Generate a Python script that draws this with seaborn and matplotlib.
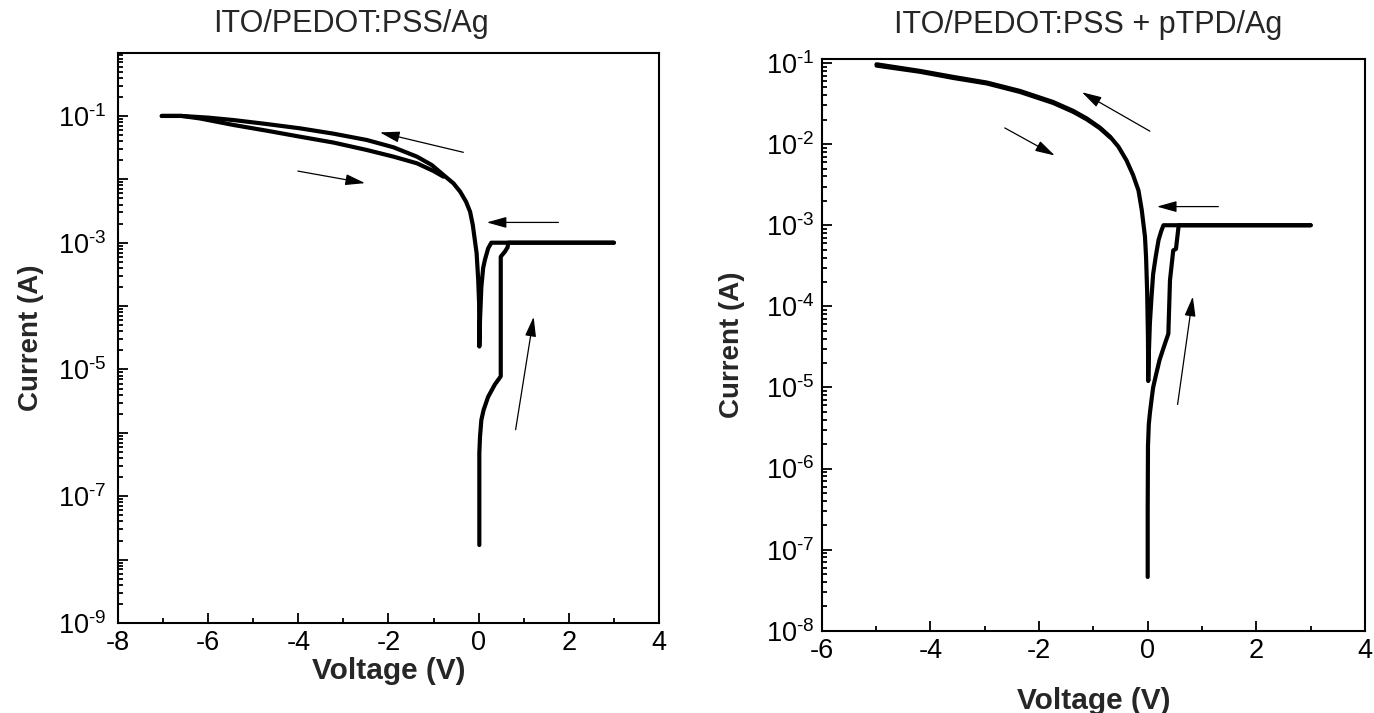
import numpy as np
import pandas as pd
import seaborn as sns
import matplotlib.pyplot as plt
from matplotlib.ticker import LogLocator, FixedLocator, MultipleLocator, NullFormatter

# left device: ITO/PEDOT:PSS/Ag  (voltage in V, |current| in A)
left_up_v = [0.015, 0.015, 0.015, 0.03, 0.06, 0.11, 0.21, 0.36, 0.49, 0.49, 0.52, 0.58, 0.64, 0.66, 3.0]
left_up_i = [1.7e-8, 1.4e-7, 4.8e-7, 8.7e-7, 1.6e-6, 2.3e-6, 3.7e-6, 5.8e-6, 7.8e-6, 6.0e-4, 6.4e-4, 7.2e-4, 8.4e-4, 1e-3, 1e-3]
left_back_v = [3.0, 0.28, 0.21, 0.14, 0.1, 0.06, 0.03, 0.015, 0.01, -0.01, -0.045, -0.08, -0.13, -0.19, -0.28,
               -0.41, -0.56, -0.78, -1.04, -1.37, -1.89, -2.48, -3.22, -3.96, -4.70, -5.44, -6.0, -6.59, -7.03]
left_back_i = [1e-3, 1e-3, 8.1e-4, 5.4e-4, 4.0e-4, 2.0e-4, 6.0e-5, 2.3e-5, 1.1e-4, 2.6e-4, 6.8e-4, 1.04e-3, 1.9e-3, 3.08e-3, 4.44e-3,
               6.38e-3, 8.65e-3, 1.17e-2, 1.68e-2, 2.28e-2, 3.2e-2, 4.17e-2, 5.25e-2, 6.37e-2, 7.45e-2, 8.61e-2, 9.4e-2, 0.1, 0.1]
left_ret_v = [-7.03, -6.59, -6.18, -5.44, -4.70, -3.96, -3.22, -2.48, -1.89, -1.37, -1.0, -0.78]
left_ret_i = [0.1, 0.1, 9.12e-2, 7.2e-2, 5.85e-2, 4.7e-2, 3.8e-2, 2.9e-2, 2.28e-2, 1.79e-2, 1.35e-2, 1.1e-2]

# right device: ITO/PEDOT:PSS + pTPD/Ag
right_up_v = [0.0, 0.0, 0.005, 0.02, 0.04, 0.07, 0.1, 0.16, 0.22, 0.3, 0.38, 0.41, 0.47, 0.52, 0.56, 0.57, 3.0]
right_up_i = [4.6e-8, 3.2e-7, 1.9e-6, 3.5e-6, 4.8e-6, 7.0e-6, 1.0e-5, 1.5e-5, 2.2e-5, 3.2e-5, 4.6e-5, 2.1e-4, 4.9e-4, 5.1e-4, 8.7e-4, 1e-3, 1e-3]
right_back_v = [3.0, 0.29, 0.25, 0.2, 0.15, 0.1, 0.07, 0.04, 0.02, 0.01, 0.005, -0.01, -0.03, -0.05, -0.11, -0.17,
                -0.27, -0.39, -0.54, -0.69, -0.88, -1.12, -1.37, -1.74, -2.35, -2.96, -3.58, -4.19, -4.99]
right_back_i = [1e-3, 1e-3, 8.5e-4, 6.6e-4, 4.2e-4, 2.5e-4, 1.3e-4, 6.2e-5, 2.5e-5, 1.2e-5, 4.0e-5, 1.5e-4, 4.0e-4, 7.2e-4, 1.55e-3, 2.69e-3,
                4.17e-3, 6.3e-3, 9.33e-3, 1.23e-2, 1.6e-2, 2.07e-2, 2.57e-2, 3.31e-2, 4.53e-2, 5.75e-2, 6.75e-2, 8.0e-2, 9.66e-2]
right_ret_v = [-4.99, -4.19, -3.58, -2.96, -2.35, -1.74, -1.37, -1.12, -0.88, -0.69]
right_ret_i = [9.3e-2, 7.8e-2, 6.55e-2, 5.6e-2, 4.4e-2, 3.22e-2, 2.5e-2, 2.02e-2, 1.57e-2, 1.21e-2]

sns.set_theme(style='ticks')
plt.rcParams['font.family'] = ['Liberation Sans', 'DejaVu Sans']
plt.rcParams['mathtext.fontset'] = 'custom'
plt.rcParams['mathtext.rm'] = 'Liberation Sans'
plt.rcParams['mathtext.it'] = 'Liberation Sans'
plt.rcParams['axes.unicode_minus'] = False

fig = plt.figure(figsize=(13.74, 7.13), dpi=100)
ax1 = fig.add_axes([0.0859, 0.1262, 0.3937, 0.8001])
ax2 = fig.add_axes([0.598, 0.1154, 0.3955, 0.8014])

for v, i in [(left_up_v, left_up_i), (left_back_v, left_back_i), (left_ret_v, left_ret_i)]:
    sns.lineplot(x=v, y=i, ax=ax1, color='black', lw=3, sort=False, estimator=None,
                 solid_capstyle='round', solid_joinstyle='round')
for v, i in [(right_up_v, right_up_i), (right_back_v, right_back_i), (right_ret_v, right_ret_i)]:
    sns.lineplot(x=v, y=i, ax=ax2, color='black', lw=3, sort=False, estimator=None,
                 solid_capstyle='round', solid_joinstyle='round')


def arrow(ax, tail, head):
    ax.annotate('', xy=head, xytext=tail,
                arrowprops=dict(arrowstyle='-|>,head_length=1.0,head_width=0.28',
                                lw=0.9, color='black', shrinkA=0, shrinkB=0))


# sweep direction arrows (tail, head)
arrow(ax1, (-0.34, 10**-1.574), (-2.19, 10**-1.26))
arrow(ax1, (-4.01, 10**-1.87), (-2.52, 10**-2.06))
arrow(ax1, (1.77, 10**-2.68), (0.18, 10**-2.68))
arrow(ax1, (0.82, 10**-5.95), (1.22, 10**-4.17))

arrow(ax2, (0.04, 10**-1.84), (-1.21, 10**-1.36))
arrow(ax2, (-2.63, 10**-1.8), (-1.71, 10**-2.14))
arrow(ax2, (1.3, 10**-2.77), (0.17, 10**-2.77))
arrow(ax2, (0.55, 10**-5.21), (0.83, 10**-3.88))

for ax in (ax1, ax2):
    ax.set_yscale('log')
    ax.xaxis.set_major_locator(MultipleLocator(2))
    ax.xaxis.set_minor_locator(MultipleLocator(1))
    ax.yaxis.set_minor_locator(LogLocator(base=10, subs=np.arange(2, 10), numticks=20))
    ax.yaxis.set_minor_formatter(NullFormatter())
    ax.tick_params(which='both', direction='in', top=False, right=False, labelsize=19.5,
                   colors='black', width=1.3)
    ax.tick_params(which='major', length=7, pad=5)
    ax.tick_params(which='minor', length=3.5)
    for s in ax.spines.values():
        s.set_color('black')
        s.set_linewidth(1.5)

ax1.tick_params(axis='y', which='major', pad=8.5)
ax1.set_ylabel('Current (A)', fontsize=20, fontweight='bold', labelpad=10)
ax2.set_ylabel('Current (A)', fontsize=20, fontweight='bold', labelpad=15)
ax1.set_xlabel('Voltage (V)', fontsize=21.5, fontweight='bold', labelpad=1)
ax2.set_xlabel('Voltage (V)', fontsize=21.5, fontweight='bold', labelpad=17)

ax1.set_xlim(-8, 4)
ax1.set_ylim(1e-9, 1)
ax1.yaxis.set_major_locator(FixedLocator([10.0**k for k in range(-9, 1)]))
ax1.set_yticklabels(['$10^{\\text{%d}}$' % k if k % 2 else '' for k in range(-9, 1)])
ax1.set_title('ITO/PEDOT:PSS/Ag', fontsize=22, pad=15, x=0.43)

ax2.set_xlim(-6, 4)
ax2.set_ylim(1e-8, 10**-0.954)
ax2.yaxis.set_major_locator(FixedLocator([10.0**k for k in range(-8, 0)]))
ax2.set_yticklabels(['$10^{\\text{%d}}$' % k for k in range(-8, 0)])
ax2.set_title('ITO/PEDOT:PSS + pTPD/Ag', fontsize=22, pad=19, x=0.49)

fig.savefig('out.png', dpi=100)
